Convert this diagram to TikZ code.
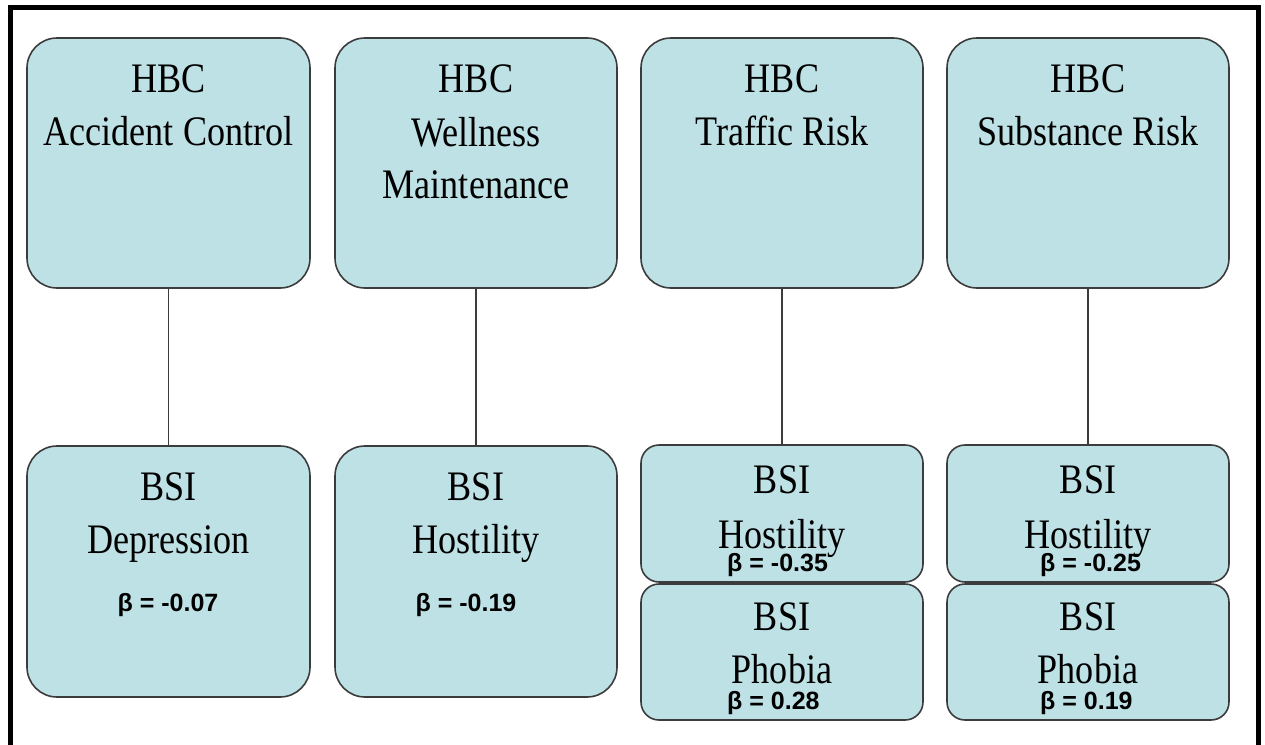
\documentclass[tikz,border=0pt]{standalone}
\usepackage{fontspec}
\setmainfont[FakeStretch=0.86]{Liberation Serif}
\newfontfamily\betafont{Liberation Sans}
\definecolor{boxfill}{RGB}{189,225,229}
\definecolor{boxline}{RGB}{60,60,60}
\begin{document}
\begin{tikzpicture}[x=1pt,y=-1pt,
  bigbox/.style={draw=boxline, line width=1.6pt, fill=boxfill, rounded corners=30pt, inner sep=0pt},
  smallbox/.style={draw=boxline, line width=1.6pt, fill=boxfill, rounded corners=18pt, inner sep=0pt},
  lbl/.style={anchor=base, inner sep=0pt, font=\fontsize{42}{50}\selectfont},
  beta/.style={anchor=base, inner sep=0pt, font=\betafont\bfseries\fontsize{25}{30}\selectfont},
  link/.style={draw=boxline, line width=1.4pt}]
\useasboundingbox (0,0) rectangle (1265,744);
\clip (0,0) rectangle (1265,744);
\fill[white] (0,0) rectangle (1265,744);
% frame
\draw[line width=5pt] (10.5,760) -- (10.5,7.5) -- (1258.5,7.5) -- (1258.5,760);
% top boxes
\node[bigbox, minimum width=283pt, minimum height=250pt] (t1) at (168.5,163) {};
\node[bigbox, minimum width=282pt, minimum height=250pt] (t2) at (476,163) {};
\node[bigbox, minimum width=282pt, minimum height=250pt] (t3) at (782,163) {};
\node[bigbox, minimum width=282pt, minimum height=250pt] (t4) at (1088,163) {};
% bottom boxes
\node[bigbox, minimum width=283pt, minimum height=251pt] (b1) at (168.5,571.5) {};
\node[bigbox, minimum width=282pt, minimum height=251pt] (b2) at (476,571.5) {};
\node[smallbox, minimum width=282pt, minimum height=137pt] (b3h) at (782,513.5) {};
\node[smallbox, minimum width=282pt, minimum height=136pt] (b3p) at (782,652) {};
\node[smallbox, minimum width=282pt, minimum height=137pt] (b4h) at (1088,513.5) {};
\node[smallbox, minimum width=282pt, minimum height=136pt] (b4p) at (1088,652) {};
% connectors
\draw[link] (t1.south) -- (b1.north);
\draw[link] (t2.south) -- (b2.north);
\draw[link] (t3.south) -- (b3h.north);
\draw[link] (t4.south) -- (b4h.north);
% top texts
\node[lbl] (t1a) at (168.5,92) {HBC};
\node[lbl] (t1b) at (168.5,145) {Accident Control};
\node[lbl] (t2a) at (476,92) {HBC};
\node[lbl] (t2b) at (476,146) {Wellness};
\node[lbl] (t2c) at (476,198) {Maintenance};
\node[lbl] (t3a) at (782,92) {HBC};
\node[lbl] (t3b) at (782,145) {Traffic Risk};
\node[lbl] (t4a) at (1088,92) {HBC};
\node[lbl] (t4b) at (1088,145) {Substance Risk};
% bottom texts
\node[lbl] (b1a) at (168.5,500) {BSI};
\node[lbl] (b1b) at (168.5,553) {Depression};
\node[beta] (b1c) at (168,611) {β = -0.07};
\node[lbl] (b2a) at (476,500) {BSI};
\node[lbl] (b2b) at (476,553) {Hostility};
\node[beta] (b2c) at (466,611) {β = -0.19};
\node[lbl] (b3a) at (782,493) {BSI};
\node[lbl] (b3b) at (782,548) {Hostility};
\node[beta, anchor=base west] (b3c) at (727,571) {β = -0.35};
\node[lbl] (b3d) at (782,630) {BSI};
\node[lbl] (b3e) at (782,683) {Phobia};
\node[beta, anchor=base west] (b3f) at (727,709) {β = 0.28};
\node[lbl] (b4a) at (1088,493) {BSI};
\node[lbl] (b4b) at (1088,548) {Hostility};
\node[beta, anchor=base west] (b4c) at (1040,571) {β = -0.25};
\node[lbl] (b4d) at (1088,630) {BSI};
\node[lbl] (b4e) at (1088,683) {Phobia};
\node[beta, anchor=base west] (b4f) at (1040,709) {β = 0.19};
\end{tikzpicture}
\end{document}
